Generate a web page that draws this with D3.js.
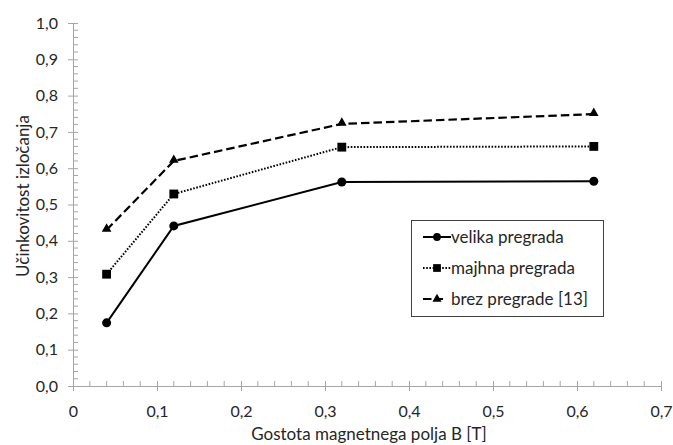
<!DOCTYPE html>
<html>
<head>
<meta charset="utf-8">
<script src="https://cdn.jsdelivr.net/npm/d3@7/dist/d3.min.js"></script>
<style>
  html, body { margin: 0; padding: 0; background: #fff; }
  svg { display: block; font-family: Lato, "Open Sans", sans-serif; }
</style>
</head>
<body>
<svg id="chart" width="673" height="445"></svg>
<script>
const xValues = [0.04, 0.12, 0.32, 0.62];
const velika = [0.174, 0.441, 0.562, 0.564];
const majhna = [0.308, 0.529, 0.658, 0.660];
const brez = [0.430, 0.620, 0.722, 0.749];
const seriesNames = ["velika pregrada", "majhna pregrada", "brez pregrade [13]"];
const xTicks = [0, 0.1, 0.2, 0.3, 0.4, 0.5, 0.6, 0.7];
const yTicks = [0, 0.1, 0.2, 0.3, 0.4, 0.5, 0.6, 0.7, 0.8, 0.9, 1.0];
const xTitle = "Gostota magnetnega polja B [T]";
const yTitle = "Učinkovitost izločanja";

const svg = d3.select("#chart");
const pLeft = 73, pRight = 661, pTop = 23, pBottom = 386;
const x = d3.scaleLinear().domain([0, 0.7]).range([pLeft, pRight]);
const y = d3.scaleLinear().domain([0, 1]).range([pBottom, pTop]);
const fmt = d => d3.format(".1f")(d).replace(".", ",");
const axisColor = "#a6a6a6";
const textColor = "#262626";

// minor ticks
const xMinor = d3.range(0, 0.7001, 0.02).filter(v => Math.abs(Math.round(v * 10) - v * 10) > 1e-6);
const yMinor = d3.range(0, 1.0001, 0.02).filter(v => Math.abs(Math.round(v * 10) - v * 10) > 1e-6);

// X axis
const gx = svg.append("g").attr("transform", `translate(0,${pBottom})`);
gx.call(d3.axisBottom(x).tickValues(xTicks).tickFormat(d => d === 0 ? "0" : fmt(d)).tickSize(5).tickSizeOuter(0));
gx.select(".domain").attr("stroke", axisColor);
gx.selectAll(".tick line").attr("stroke", axisColor).attr("y1", -5).attr("y2", 5);
gx.selectAll(".tick text").attr("fill", textColor).attr("font-size", 16).attr("font-family", "Lato").attr("dy", "0.35em").attr("y", 25);
gx.selectAll(".minor").data(xMinor).enter().append("line")
  .attr("x1", d => x(d)).attr("x2", d => x(d)).attr("y1", 0).attr("y2", -5)
  .attr("stroke", axisColor);

// Y axis
const gy = svg.append("g").attr("transform", `translate(${pLeft},0)`);
gy.call(d3.axisLeft(y).tickValues(yTicks).tickFormat(fmt).tickSize(5).tickSizeOuter(0));
gy.select(".domain").attr("stroke", axisColor);
gy.selectAll(".tick line").attr("stroke", axisColor).attr("x1", -5).attr("x2", 5);
gy.selectAll(".tick text").attr("fill", textColor).attr("font-size", 16).attr("font-family", "Lato").attr("x", -15);
gy.selectAll(".minor").data(yMinor).enter().append("line")
  .attr("y1", d => y(d)).attr("y2", d => y(d)).attr("x1", 0).attr("x2", 5)
  .attr("stroke", axisColor);

// Titles
svg.append("text").attr("x", 369).attr("y", 440)
  .attr("text-anchor", "middle").attr("font-size", 17).attr("fill", textColor).text(xTitle);
svg.append("text").attr("transform", `translate(29,196) rotate(-90)`)
  .attr("text-anchor", "middle").attr("font-size", 17).attr("fill", textColor).text(yTitle);

// Series
const styles = [
  { data: velika, dash: null, width: 2, marker: "circle", size: 64, lsize: 48, lx2: 451 },
  { data: majhna, dash: "1.6,1.6", width: 2, marker: "square", size: 78, lsize: 60, lx2: 451 },
  { data: brez, dash: "8.5,4", width: 2.2, marker: "triangle", size: 40, lsize: 36, lx2: 443 }
];
const line = d3.line().x((d, i) => x(xValues[i])).y(d => y(d));
const symbolFor = (m, s) => m === "circle" ? d3.symbol(d3.symbolCircle, s)
  : m === "square" ? d3.symbol(d3.symbolSquare, s) : d3.symbol(d3.symbolTriangle, s);

styles.forEach(s => {
  svg.append("path").datum(s.data).attr("d", line)
    .attr("fill", "none").attr("stroke", "#000").attr("stroke-width", s.width)
    .attr("stroke-dasharray", s.dash);
  svg.selectAll(null).data(s.data).enter().append("path")
    .attr("d", symbolFor(s.marker, s.size))
    .attr("transform", (d, i) => `translate(${x(xValues[i])},${y(d) - (s.marker === "triangle" ? 1 : 0)})`)
    .attr("fill", "#000");
});

// Legend
const lg = svg.append("g");
lg.append("rect").attr("x", 411.5).attr("y", 220.5).attr("width", 192).attr("height", 96)
  .attr("fill", "#fff").attr("stroke", "#404040").attr("stroke-width", 1);
styles.forEach((s, i) => {
  const cy = 237 + i * 31;
  lg.append("line").attr("x1", 423).attr("x2", s.lx2).attr("y1", cy).attr("y2", cy)
    .attr("stroke", "#000").attr("stroke-width", s.width).attr("stroke-dasharray", s.dash);
  lg.append("path").attr("d", symbolFor(s.marker, s.lsize)).attr("transform", `translate(437,${cy})`).attr("fill", "#000");
  lg.append("text").attr("x", 451).attr("y", cy).attr("dy", "0.35em")
    .attr("font-size", 17).attr("fill", textColor).text(seriesNames[i]);
});
</script>
</body>
</html>
